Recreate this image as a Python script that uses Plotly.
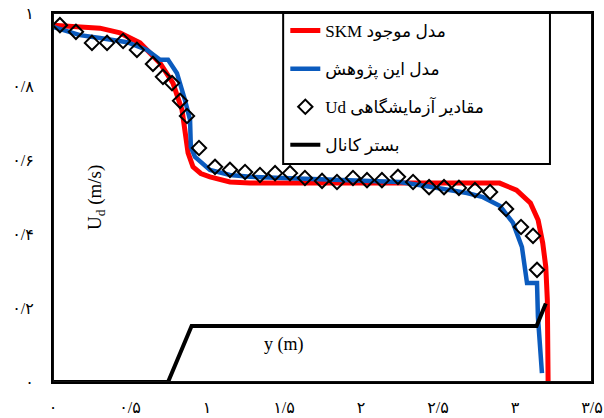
import plotly.graph_objects as go

# SKM model (red)
x_skm = [0, 0.305, 0.435, 0.565, 0.695, 0.779, 0.838, 0.857, 0.877, 0.909, 0.96, 1.019, 1.149, 1.279,
         1.93, 2.58, 2.90, 3.01, 3.10, 3.15, 3.18, 3.20, 3.21, 3.215]
y_skm = [0.967, 0.959, 0.946, 0.919, 0.864, 0.810, 0.737, 0.675, 0.621, 0.583, 0.565, 0.556, 0.542, 0.539,
         0.538, 0.539, 0.539, 0.520, 0.485, 0.439, 0.377, 0.312, 0.222, 0.0]

# This research model (blue)
x_new = [0, 0.175, 0.305, 0.481, 0.610, 0.695, 0.747, 0.805, 0.857, 0.890, 0.895, 0.922, 1.019, 1.149, 1.279,
         1.494, 1.929, 2.253, 2.468, 2.688, 2.792, 2.903, 2.987, 3.045, 3.078, 3.143, 3.149, 3.175]
y_new = [0.962, 0.940, 0.932, 0.921, 0.900, 0.873, 0.873, 0.837, 0.764, 0.710, 0.637, 0.610, 0.575, 0.561, 0.556,
         0.553, 0.547, 0.542, 0.528, 0.512, 0.501, 0.477, 0.431, 0.366, 0.268, 0.268, 0.176, 0.024]

# Experimental Ud (diamonds)
x_exp = [0.045, 0.149, 0.253, 0.351, 0.455, 0.545, 0.649, 0.714, 0.773, 0.825, 0.870, 0.948, 1.052, 1.149,
         1.247, 1.344, 1.442, 1.539, 1.636, 1.747, 1.844, 1.948, 2.039, 2.136, 2.240, 2.338, 2.442, 2.539,
         2.636, 2.740, 2.838, 2.942, 3.039, 3.117, 3.143]
y_exp = [0.967, 0.949, 0.919, 0.919, 0.924, 0.900, 0.862, 0.827, 0.810, 0.762, 0.721, 0.634, 0.583, 0.575,
         0.569, 0.561, 0.566, 0.566, 0.553, 0.545, 0.542, 0.553, 0.547, 0.547, 0.556, 0.542, 0.528, 0.528,
         0.526, 0.520, 0.515, 0.469, 0.420, 0.396, 0.304]

# Channel bed (black)
x_bed = [0, 0.747, 0.90, 3.14, 3.20]
y_bed = [0, 0, 0.152, 0.152, 0.213]

x_ticks = [0, 0.5, 1, 1.5, 2, 2.5, 3, 3.5]
x_ticktext = ["۰", "۰/۵", "۱", "۱/۵", "۲", "۲/۵", "۳", "۳/۵"]
y_ticks = [0, 0.2, 0.4, 0.6, 0.8, 1]
y_ticktext = ["۰", "۰/۲", "۰/۴", "۰/۶", "۰/۸", "۱"]

name_skm = "SKM مدل موجود"
name_new = "مدل این پژوهش"
name_exp = "Ud مقادیر آزمایشگاهی"
name_bed = "بستر کانال"

FONT = "Liberation Serif, DejaVu Sans, serif"

fig = go.Figure()
fig.add_trace(go.Scatter(x=x_skm, y=y_skm, mode="lines", name=name_skm, legendgroup="a",
                         line=dict(color="#FF0000", width=5)))
fig.add_trace(go.Scatter(x=x_new, y=y_new, mode="lines", name=name_new, legendgroup="b",
                         line=dict(color="#0B5BBE", width=4.5)))
fig.add_trace(go.Scatter(x=x_exp, y=y_exp, mode="markers", name=name_exp, legendgroup="c",
                         marker=dict(symbol="diamond-open", size=11, color="black",
                                     line=dict(color="black", width=2))))
fig.add_trace(go.Scatter(x=x_bed, y=y_bed, mode="lines", name=name_bed, legendgroup="d",
                         line=dict(color="black", width=4)))

fig.update_layout(
    width=604, height=418,
    margin=dict(l=53, r=12, t=13, b=36),
    paper_bgcolor="white", plot_bgcolor="white",
    font=dict(family=FONT, size=16, color="black"),
    showlegend=True,
    legend=dict(x=0.431, y=1.0, xanchor="left", yanchor="top",
                bgcolor="rgba(0,0,0,0)", borderwidth=0,
                font=dict(family=FONT, size=17, color="black"),
                tracegroupgap=13, itemwidth=30),
    xaxis=dict(range=[0, 3.5], tickvals=x_ticks, ticktext=x_ticktext, showgrid=False, zeroline=False,
               showline=True, linecolor="black", linewidth=2, mirror="all", ticks="", automargin=False,
               ticklabelstandoff=10, tickfont=dict(size=16)),
    yaxis=dict(range=[0, 1], tickvals=y_ticks, ticktext=y_ticktext, showgrid=False, zeroline=False,
               showline=True, linecolor="black", linewidth=2, mirror="all", ticks="", automargin=False,
               ticklabelstandoff=14, tickfont=dict(size=16)),
    shapes=[
        dict(type="rect", xref="x", yref="y", x0=0, x1=3.5, y0=0, y1=1,
             line=dict(color="#111111", width=2), fillcolor="rgba(0,0,0,0)", layer="above"),
        dict(type="rect", xref="paper", yref="paper", x0=0.427, x1=0.922, y0=0.591, y1=1.0,
             line=dict(color="black", width=2), fillcolor="rgba(0,0,0,0)", layer="above"),
    ],
    annotations=[
        dict(text="U<sub>d</sub> (m/s)", xref="paper", yref="paper",
             x=(82 - 53) / 539, y=(382 - 198) / 369, showarrow=False, textangle=-90,
             font=dict(family=FONT, size=19, color="black")),
        dict(text="y (m)", xref="paper", yref="paper",
             x=(284 - 53) / 539, y=(382 - 357) / 369, showarrow=False,
             font=dict(family=FONT, size=18, color="black")),
    ],
)

fig.write_html("out.html")
